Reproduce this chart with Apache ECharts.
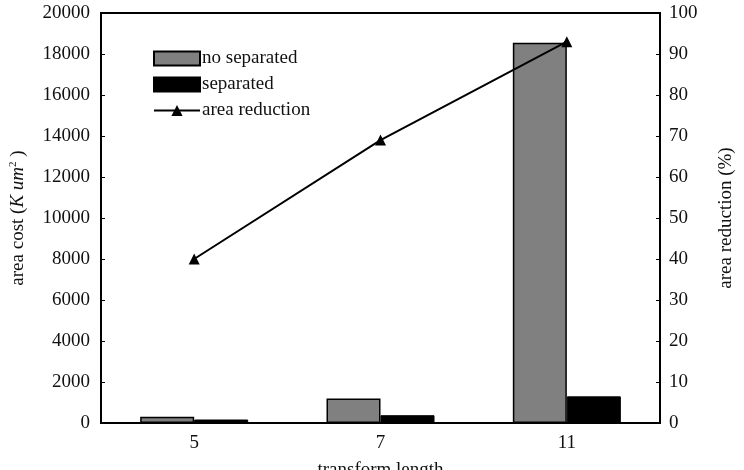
<!DOCTYPE html>
<html>
<head>
<meta charset="utf-8">
<script src="https://cdn.jsdelivr.net/npm/echarts@6/dist/echarts.min.js"></script>
<style>html,body{margin:0;padding:0;background:#fff}#c{width:744px;height:470px}</style>
</head>
<body>
<div id="c"></div>
<script>
const categories = ['5', '7', '11'];
const noSeparated = [300, 1200, 18550];
const separated = [170, 380, 1300];
const areaReduction = [40, 69, 93];
const leftTicks = {min: 0, max: 20000, interval: 2000};
const rightTicks = {min: 0, max: 100, interval: 10};

const FONT = 'Liberation Serif';
const TXT = '#111';
const plain = v => String(v);
const chart = echarts.init(document.getElementById('c'), null, {renderer: 'canvas'});
chart.setOption({
  animation: false,
  backgroundColor: '#fff',
  textStyle: {fontFamily: FONT, color: TXT},
  grid: {left: 101, right: 84, top: 13, bottom: 47, containLabel: false, outerBoundsMode: 'none',
    show: true, borderColor: '#000', borderWidth: 2, backgroundColor: 'transparent'},
  legend: {
    orient: 'vertical', left: 148, top: 44,
    itemWidth: 46, itemHeight: 14, itemGap: 7,
    textStyle: {fontFamily: FONT, fontSize: 19, color: TXT, lineHeight: 19, padding: [0, 0, 0, -3]},
    data: [{name: 'no separated', icon: 'rect'}, {name: 'separated', icon: 'rect'}, {name: 'area reduction'}]
  },
  xAxis: {
    type: 'category', data: categories,
    axisLine: {lineStyle: {color: '#000', width: 2}},
    axisTick: {inside: true, length: 4, lineStyle: {color: '#000', width: 1}},
    axisLabel: {fontFamily: FONT, fontSize: 19, color: TXT, margin: 11},
    name: 'transform length', nameLocation: 'middle', nameGap: 38,
    nameTextStyle: {fontFamily: FONT, fontSize: 19, color: TXT}
  },
  yAxis: [{
    type: 'value', position: 'left', min: leftTicks.min, max: leftTicks.max, interval: leftTicks.interval,
    splitLine: {show: false},
    axisLine: {show: true, lineStyle: {color: '#000', width: 2}},
    axisTick: {show: true, inside: true, length: 4, lineStyle: {color: '#000', width: 1}},
    axisLabel: {fontFamily: FONT, fontSize: 19, color: TXT, margin: 11, formatter: plain},
    name: 'area cost ({i|K um}{s|2}{n| )}', nameLocation: 'middle', nameGap: 73, nameRotate: 90,
    nameTextStyle: {fontFamily: FONT, fontSize: 19, color: TXT,
      rich: {
        i: {fontFamily: FONT, fontSize: 19, fontStyle: 'italic', color: TXT},
        s: {fontFamily: FONT, fontSize: 11, color: TXT, verticalAlign: 'top', padding: [0, 0, 9, 0]},
        n: {fontFamily: FONT, fontSize: 19, color: TXT}
      }}
  }, {
    type: 'value', position: 'right', min: rightTicks.min, max: rightTicks.max, interval: rightTicks.interval,
    splitLine: {show: false},
    axisLine: {show: true, lineStyle: {color: '#000', width: 2}},
    axisTick: {show: true, inside: true, length: 4, lineStyle: {color: '#000', width: 1}},
    axisLabel: {fontFamily: FONT, fontSize: 19, color: TXT, margin: 9, formatter: plain},
    name: 'area reduction (%)', nameLocation: 'middle', nameGap: 57, nameRotate: 90,
    nameTextStyle: {fontFamily: FONT, fontSize: 19, color: TXT}
  }],
  series: [{
    name: 'no separated', type: 'bar', data: noSeparated, barWidth: 54, barGap: '0%',
    itemStyle: {color: '#808080', borderColor: '#000', borderWidth: 1.5}
  }, {
    name: 'separated', type: 'bar', data: separated, barWidth: 54, barGap: '0%',
    itemStyle: {color: '#000', borderColor: '#000', borderWidth: 1}
  }, {
    name: 'area reduction', type: 'line', yAxisIndex: 1, data: areaReduction,
    symbol: 'triangle', symbolSize: 11,
    lineStyle: {color: '#000', width: 2},
    itemStyle: {color: '#000'}
  }]
});
</script>
</body>
</html>
